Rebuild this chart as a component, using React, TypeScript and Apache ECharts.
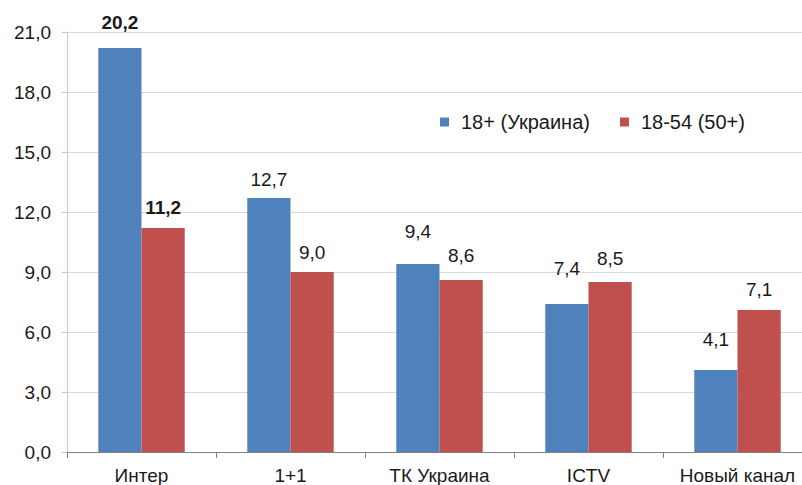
import React, { useEffect, useRef } from "react";
import * as echarts from "echarts";

const categories = ["Интер", "1+1", "ТК Украина", "ICTV", "Новый канал"];
const seriesNames = ["18+ (Украина)", "18-54 (50+)"];
const valuesA = [20.2, 12.7, 9.4, 7.4, 4.1];
const valuesB = [11.2, 9.0, 8.6, 8.5, 7.1];
const boldIndex = 0;
// label gap above each bar (px), as placed in the original
const labelGapA = [16, 9, 23, 26, 21];
const labelGapB = [11, 10, 15, 14, 11];

const fmt = (v: number) => v.toFixed(1).replace(".", ",");
const FONT = "Liberation Sans, Arial, sans-serif";

export default function App() {
  const ref = useRef<HTMLDivElement>(null);
  useEffect(() => {
    if (!ref.current) return;
    const chart = echarts.init(ref.current, null, { renderer: "svg" });
    const mk = (name: string, vals: number[], gaps: number[], color: string) => ({
      name,
      type: "bar",
      barGap: "0%",
      barCategoryGap: "42%",
      itemStyle: { color },
      data: vals.map((v, i) => ({
        value: v,
        label: {
          distance: gaps[i],
          fontWeight: i === boldIndex ? "bold" : "normal",
        },
      })),
      label: {
        show: true,
        position: "top",
        color: "#1a1a1a",
        fontSize: 19,
        fontFamily: FONT,
        formatter: (p: any) => fmt(p.value),
      },
    });
    chart.setOption({
      animation: false,
      textStyle: { fontFamily: FONT },
      grid: { left: 67, right: 0, top: 32, bottom: 33, containLabel: false },
      legend: {
        data: seriesNames,
        left: 435,
        top: 107,
        itemWidth: 9,
        itemHeight: 9,
        itemGap: 30,
        icon: "rect",
        textStyle: { fontSize: 20, color: "#1a1a1a", fontFamily: FONT, padding: [0, 0, 0, 7] },
      },
      xAxis: {
        type: "category",
        data: categories,
        axisLine: { lineStyle: { color: "#808080", width: 1 } },
        axisTick: { show: true, length: 6, lineStyle: { color: "#808080" } },
        axisLabel: { interval: 0, fontSize: 19, color: "#1a1a1a", margin: 14, fontFamily: FONT },
      },
      yAxis: {
        type: "value",
        min: 0,
        max: 21,
        interval: 3,
        axisLine: { show: true, lineStyle: { color: "#c8c8c8" } },
        axisTick: { show: true, length: 5, lineStyle: { color: "#c8c8c8" } },
        splitLine: { lineStyle: { color: "#d9d9d9" } },
        axisLabel: {
          fontSize: 19,
          color: "#1a1a1a",
          margin: 16,
          fontFamily: FONT,
          formatter: (v: number) => fmt(v),
        },
      },
      series: [
        mk(seriesNames[0], valuesA, labelGapA, "#4F81BD"),
        mk(seriesNames[1], valuesB, labelGapB, "#C0504D"),
      ],
    });
    return () => chart.dispose();
  }, []);
  return (
    <div style={{ width: 802, height: 485, position: "absolute", left: 0, top: 0, overflow: "hidden" }}>
      <div ref={ref} style={{ width: 812, height: 485 }} />
    </div>
  );
}
